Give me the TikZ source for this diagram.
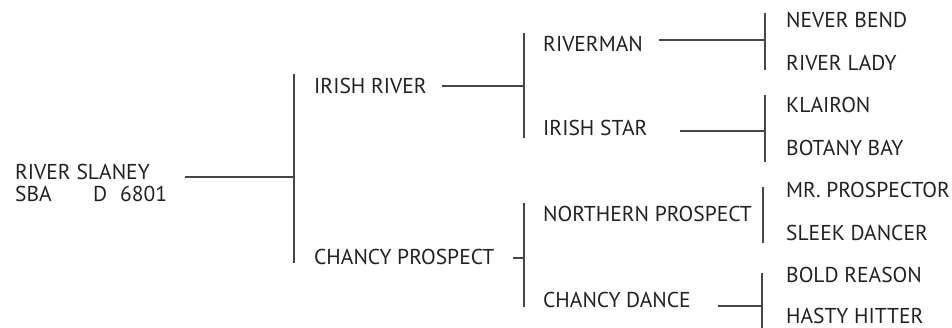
\documentclass[tikz,border=0pt]{standalone}
\usepackage{fontspec}
\setmainfont{PT Sans}
\definecolor{ink}{HTML}{222222}
\definecolor{rule}{HTML}{474747}
\begin{document}
\begin{tikzpicture}[x=1pt,y=-1pt,
  lbl/.style={anchor=base west,inner sep=0pt,text=ink,font=\fontsize{21.5}{22}\selectfont},
  conn/.style={draw=rule,line width=1.3pt}]
\useasboundingbox (0,0) rectangle (952,328);
% generation 0
\node[lbl,align=left] (rs) at (15,202) {RIVER SLANEY\\\makebox[78pt][l]{SBA}\makebox[27pt][l]{D}6801};
% generation 1
\node[lbl] (ir) at (314,93.5) {IRISH RIVER};
\node[lbl] (cp) at (314,265) {CHANCY PROSPECT};
% generation 2
\node[lbl] (rm) at (543,51.5) {RIVERMAN};
\node[lbl] (is) at (543,136) {IRISH STAR};
\node[lbl] (np) at (543,222) {NORTHERN PROSPECT};
\node[lbl] (cd) at (543,308) {CHANCY DANCE};
% generation 3
\node[lbl] (nb) at (786,28) {NEVER BEND};
\node[lbl] (rl) at (786,70.5) {RIVER LADY};
\node[lbl] (kl) at (786,113) {KLAIRON};
\node[lbl] (bb) at (786,155.5) {BOTANY BAY};
\node[lbl] (mp) at (786,198) {MR. PROSPECTOR};
\node[lbl] (sd) at (786,240.5) {SLEEK DANCER};
\node[lbl] (br) at (786,283) {BOLD REASON};
\node[lbl] (hh) at (786,323.5) {HASTY HITTER};
% bracket coordinates
\coordinate (b1t) at (294,74);   \coordinate (b1b) at (294,263);  \coordinate (b1m) at (294,177);
\coordinate (b2t) at (524,33);   \coordinate (b2b) at (524,138);  \coordinate (b2m) at (524,86);
\coordinate (b3t) at (524,203);  \coordinate (b3b) at (524,307);  \coordinate (b3m) at (524,258);
\coordinate (b4t) at (765,13);   \coordinate (b4b) at (765,70);   \coordinate (b4m) at (765,40);
\coordinate (b5t) at (765,95);   \coordinate (b5b) at (765,162);  \coordinate (b5m) at (765,131);
\coordinate (b6t) at (763,187);  \coordinate (b6b) at (763,243);
\coordinate (b7t) at (762,273);  \coordinate (b7b) at (762,328);  \coordinate (b7m) at (762,306);
% connector starts
\coordinate (rsL) at (185,177);
\coordinate (irL) at (442,86);
\coordinate (cpL) at (513,258);
\coordinate (rmL) at (659,40);
\coordinate (isL) at (680,131);
\coordinate (cdL) at (718,306);
% brackets
\foreach \b in {1,...,7} {\draw[conn] (b\b t) -- (b\b b);}
% connectors
\draw[conn] (rsL) -- (b1m);
\draw[conn] (irL) -- (b2m);
\draw[conn] (cpL) -- (b3m);
\draw[conn] (rmL) -- (b4m);
\draw[conn] (isL) -- (b5m);
\draw[conn] (cdL) -- (b7m);
\end{tikzpicture}
\end{document}
